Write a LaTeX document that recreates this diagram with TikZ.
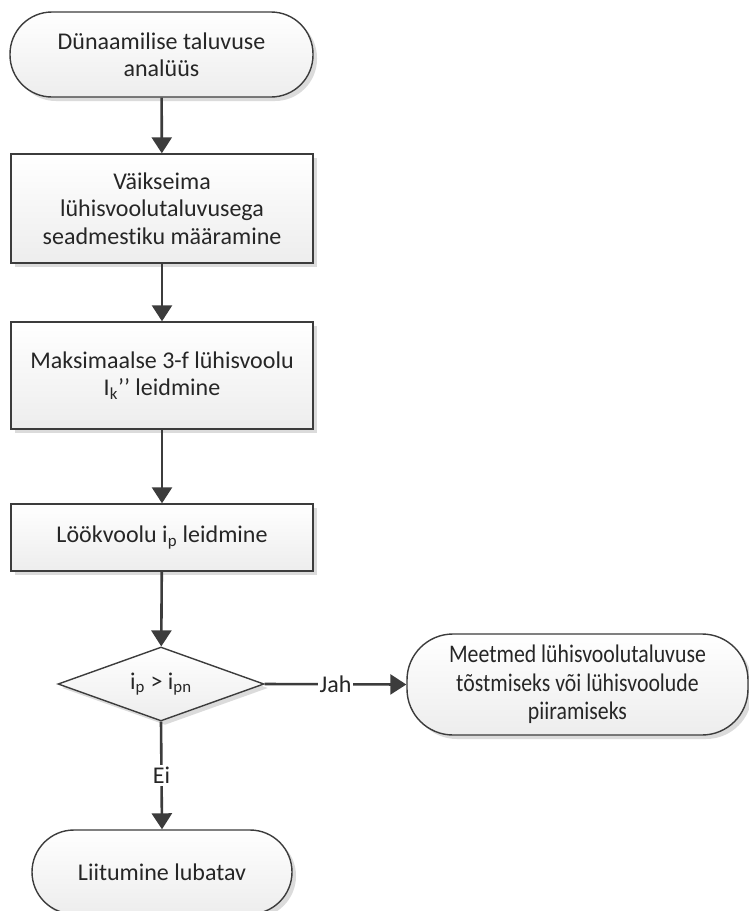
\documentclass[tikz,border=0pt]{standalone}
\usepackage{fontspec}
\setmainfont{Carlito}[RawFeature=-liga]
\newfontfamily\narrowfont{Carlito}[FakeStretch=0.86, RawFeature=-liga]
\usetikzlibrary{arrows.meta,shapes.geometric,shadows}
\newcommand{\pxl}[1]{#1*0.75pt}
\definecolor{edge}{HTML}{3C3C3C}
\definecolor{ink}{HTML}{262626}
\definecolor{boxbot}{HTML}{EDEDED}
\tikzset{
  base/.style={draw=edge, line width=\pxl{1.4}, top color=white, bottom color=boxbot,
    text=ink, align=center, inner sep=0pt,
    font=\fontsize{18}{20.5}\selectfont,
    drop shadow={shadow xshift=\pxl{4}, shadow yshift=-\pxl{4}, fill=black!14, opacity=1}},
  process/.style={base, rectangle, minimum width=\pxl{302}},
  terminal/.style={base, rectangle, rounded corners=\pxl{42}},
  decision/.style={base, diamond, minimum width=\pxl{206}, minimum height=\pxl{74}, aspect=2.78},
  flow/.style={draw=edge, line width=\pxl{2.6}, -{Triangle[length=\pxl{16}, width=\pxl{20}]}},
  lbl/.style={fill=white, text=ink, inner sep=\pxl{2}, font=\fontsize{18}{20.5}\selectfont}
}
\begin{document}
\begin{tikzpicture}[x=0.75pt, y=-0.75pt]
\useasboundingbox (0,0) rectangle (749,911);
\clip (0,0) rectangle (749,911);
\fill[white] (0,0) rectangle (749,911);

\node[terminal, minimum width=\pxl{303}, minimum height=\pxl{85}] (start) at (161.5,54.5)
  {Dünaamilise taluvuse\\analüüs};
\node[process, minimum height=\pxl{109}] (weak) at (162,208.5)
  {Väikseima\\lühisvoolutaluvusega\\seadmestiku määramine};
\node[process, minimum height=\pxl{107}] (ik) at (162,375.5)
  {Maksimaalse 3-f lühisvoolu\\I\textsubscript{k}’’ leidmine};
\node[process, minimum height=\pxl{67}] (ip) at (162,537.5)
  {Löökvoolu i\textsubscript{p} leidmine};
\node[decision] (cmp) at (161,684) {i\textsubscript{p} > i\textsubscript{pn}};
\node[terminal, rounded corners=\pxl{46}, minimum width=\pxl{341}, minimum height=\pxl{101},
  font=\narrowfont\fontsize{19}{21.5}\selectfont] (fix) at (577.5,684.5)
  {Meetmed lühisvoolutaluvuse\\tõstmiseks või lühisvoolude\\piiramiseks};
\node[terminal, minimum width=\pxl{260}, minimum height=\pxl{84}] (ok) at (162,872)
  {Liitumine lubatav};

\draw[flow] (start) -- (weak);
\draw[flow] (weak) -- (ik);
\draw[flow] (ik) -- (ip);
\draw[flow] (ip) -- (cmp);
\draw[flow] (cmp.east) -- node[lbl] {Jah} (fix.west);
\draw[flow] (cmp.south) -- node[lbl] {Ei} (ok.north);
\end{tikzpicture}
\end{document}
